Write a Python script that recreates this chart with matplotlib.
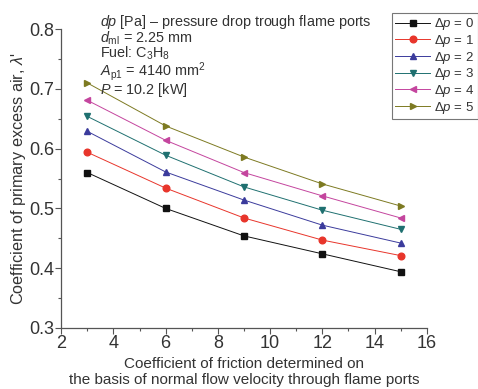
import matplotlib
matplotlib.use("Agg")
import matplotlib.pyplot as plt
from matplotlib.ticker import MultipleLocator

plt.rcParams["font.family"] = ["Liberation Sans", "DejaVu Sans"]
plt.rcParams["mathtext.fontset"] = "custom"
plt.rcParams["mathtext.rm"] = "Liberation Sans"
plt.rcParams["mathtext.it"] = "Liberation Sans:italic"

friction = [3, 6, 9, 12, 15]
dp0 = [0.560, 0.500, 0.454, 0.424, 0.394]
dp1 = [0.594, 0.534, 0.484, 0.447, 0.421]
dp2 = [0.629, 0.561, 0.514, 0.472, 0.442]
dp3 = [0.654, 0.589, 0.536, 0.497, 0.465]
dp4 = [0.681, 0.614, 0.560, 0.521, 0.484]
dp5 = [0.710, 0.638, 0.586, 0.541, 0.504]

series = [dp0, dp1, dp2, dp3, dp4, dp5]
labels = [r"$\Delta p$ = %d" % i for i in range(6)]
colors = ["#111111", "#e8352b", "#3b3b9c", "#1f7070", "#c4459e", "#7d7a22"]
markers = ["s", "o", "^", "v", "<", ">"]

fig = plt.figure(figsize=(4.78, 3.89), dpi=100)
ax = fig.add_axes([0.128, 0.157, 0.765, 0.768])

for ys, lab, c, m in zip(series, labels, colors, markers):
    ax.plot(friction, ys, color=c, marker=m, markersize=4.8, linewidth=0.7,
            label=lab)

ax.set_xlim(2, 16)
ax.set_ylim(0.3, 0.8)
ax.xaxis.set_major_locator(MultipleLocator(2))
ax.xaxis.set_minor_locator(MultipleLocator(1))
ax.yaxis.set_major_locator(MultipleLocator(0.1))
ax.yaxis.set_minor_locator(MultipleLocator(0.05))
ax.yaxis.set_major_formatter(matplotlib.ticker.FormatStrFormatter("%.1f"))
ax.tick_params(which="major", length=4, width=0.8, labelsize=13, pad=1,
               color="#555555", labelcolor="#333333")
ax.tick_params(which="minor", length=2.5, width=0.8, color="#555555")
for side in ["top", "right"]:
    ax.spines[side].set_visible(False)
for side in ["left", "bottom"]:
    ax.spines[side].set_color("#555555")
    ax.spines[side].set_linewidth(0.9)

ax.set_xlabel("Coefficient of friction determined on\n"
              "the basis of normal flow velocity through flame ports",
              fontsize=11, labelpad=4, linespacing=1.1, color="#333333")
ax.set_ylabel("Coefficient of primary excess air, $\\lambda$'", fontsize=11.7,
              labelpad=1, color="#333333")

# operating conditions, one block of text in the upper left
info = "\n".join([r"$dp$ [Pa] – pressure drop trough flame ports",
                  r"$d_{\mathrm{ml}}$ = 2.25 mm",
                  r"Fuel: C$_3$H$_8$",
                  r"$A_{\mathrm{p1}}$ = 4140 mm$^2$",
                  r"$P$ = 10.2 [kW]"])
fig.text(100 / 478, 1 - 13 / 389, info, fontsize=10.4, va="top", ha="left",
         color="#333333", linespacing=0.86)

leg = fig.legend(loc="upper right", bbox_to_anchor=(1.0, 1 - 13 / 389),
                 fontsize=9.5, frameon=True, fancybox=False, edgecolor="#555555",
                 handlelength=2.6, handletextpad=0.35, borderpad=0.25,
                 labelspacing=0.05, borderaxespad=0)
leg.get_frame().set_linewidth(0.8)
for t in leg.get_texts():
    t.set_color("#333333")

fig.savefig("out.png", dpi=100)
